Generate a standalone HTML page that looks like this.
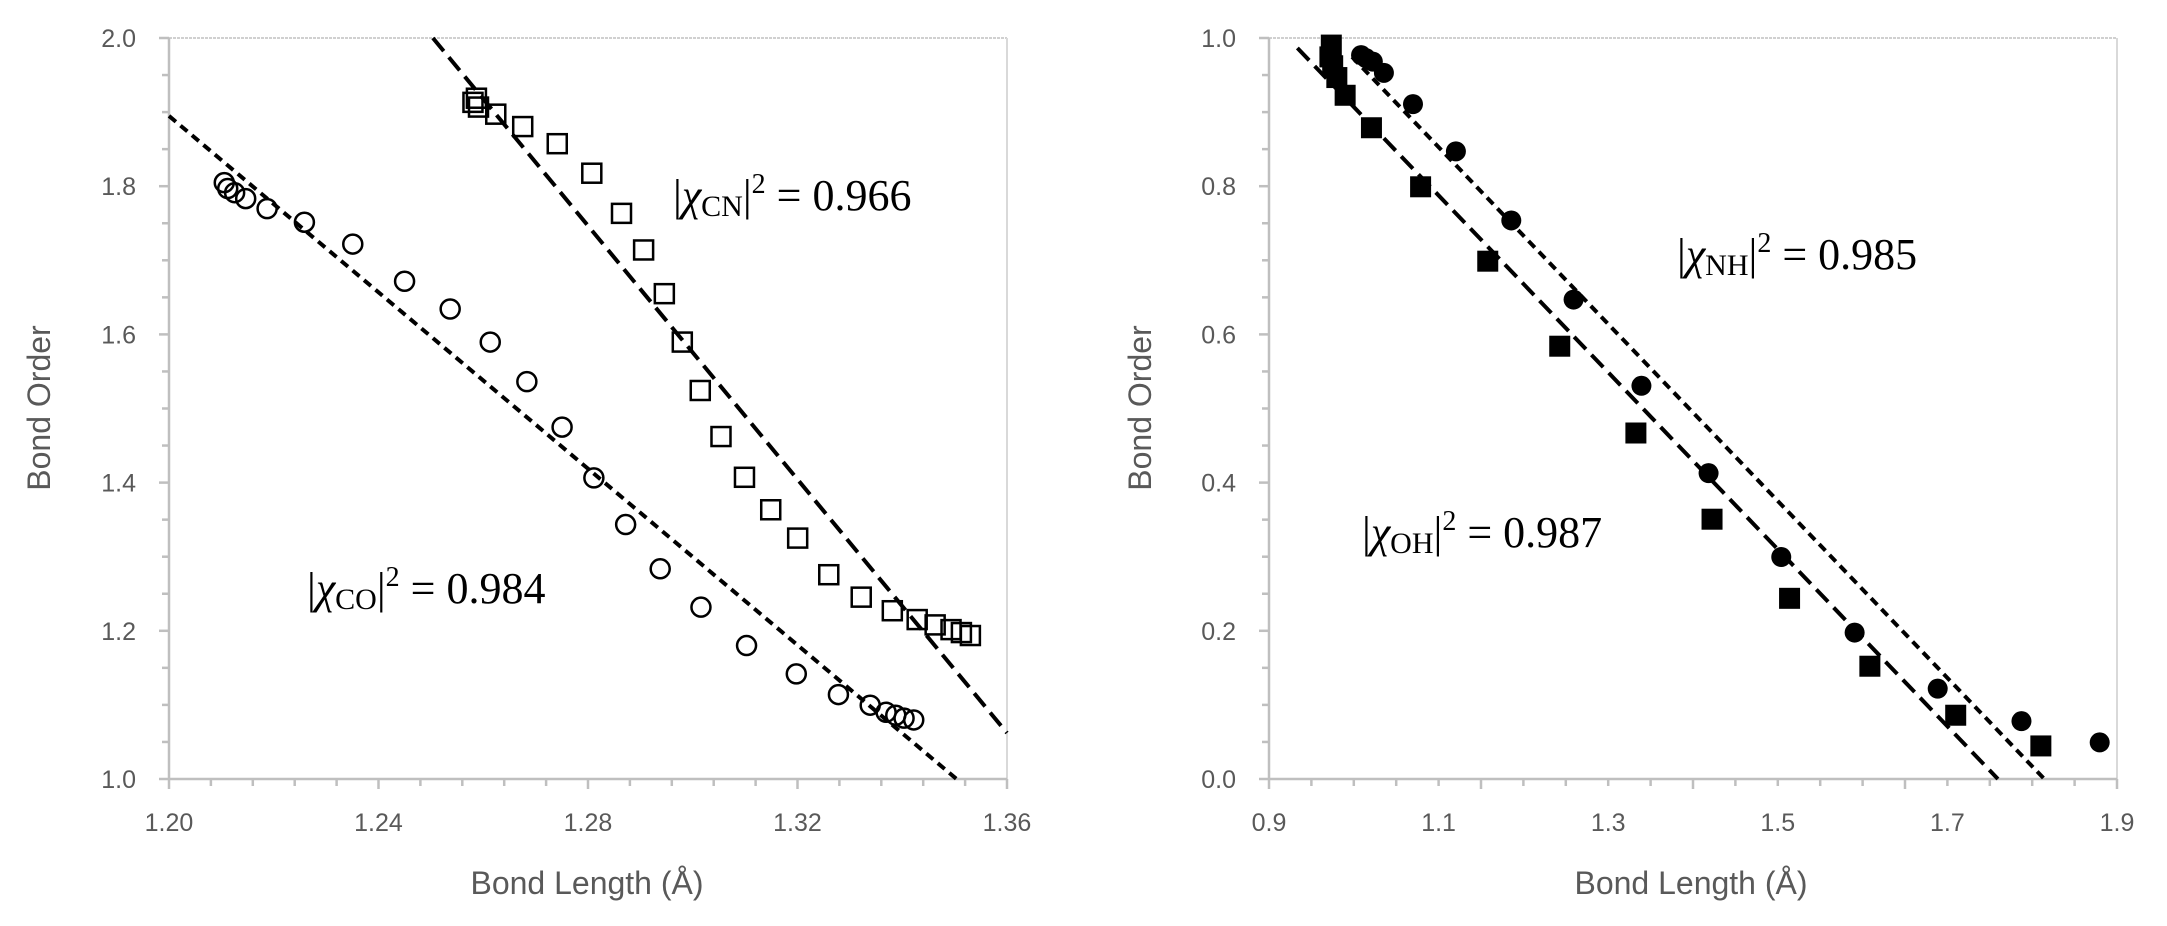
<!DOCTYPE html>
<html><head><meta charset="utf-8"><style>
html,body{margin:0;padding:0;background:#fff;}
svg{display:block;}
.tl{font-family:"Liberation Sans",sans-serif;font-size:25px;fill:#595959;}
.at{font-family:"Liberation Sans",sans-serif;font-size:32px;fill:#595959;}
.eq{font-family:"Liberation Serif",serif;font-size:44px;fill:#000;}
</style></head><body>
<svg id="s" width="2167" height="926" xmlns="http://www.w3.org/2000/svg">
<rect width="2167" height="926" fill="#fff"/>
<line x1="169" y1="38" x2="1007" y2="38" stroke="#d0d0d0" stroke-width="2" stroke-dasharray="3,1"/>
<line x1="1007" y1="38" x2="1007" y2="779" stroke="#d9d9d9" stroke-width="2"/>
<line x1="169" y1="38" x2="169" y2="779" stroke="#bfbfbf" stroke-width="2.5"/>
<line x1="169" y1="779" x2="1007" y2="779" stroke="#bfbfbf" stroke-width="2.5"/>
<line x1="1269" y1="38" x2="2117" y2="38" stroke="#d0d0d0" stroke-width="2" stroke-dasharray="3,1"/>
<line x1="2117" y1="38" x2="2117" y2="779" stroke="#d9d9d9" stroke-width="2"/>
<line x1="1269" y1="38" x2="1269" y2="779" stroke="#bfbfbf" stroke-width="2.5"/>
<line x1="1269" y1="779" x2="2117" y2="779" stroke="#bfbfbf" stroke-width="2.5"/>
<g id="ticks" stroke="#bfbfbf" stroke-width="2.5"></g>
<g id="labels"></g>
<text class="at" transform="translate(50,408) rotate(-90)" text-anchor="middle">Bond Order</text>
<text class="at" transform="translate(1151,408) rotate(-90)" text-anchor="middle">Bond Order</text>
<text class="at" x="587" y="894" text-anchor="middle">Bond Length (Å)</text>
<text class="at" x="1691" y="894" text-anchor="middle">Bond Length (Å)</text>
<g id="lines" stroke="#000" stroke-width="4" fill="none"></g>
<g id="pts"></g>
<text class="eq" x="673" y="210">|<tspan font-style="italic">χ</tspan><tspan font-size="30" dy="6">CN</tspan><tspan dy="-6">|</tspan><tspan font-size="28" dy="-17">2</tspan><tspan dy="17"> = 0.966</tspan></text>
<text class="eq" x="307" y="603">|<tspan font-style="italic">χ</tspan><tspan font-size="30" dy="6">CO</tspan><tspan dy="-6">|</tspan><tspan font-size="28" dy="-17">2</tspan><tspan dy="17"> = 0.984</tspan></text>
<text class="eq" x="1677" y="269">|<tspan font-style="italic">χ</tspan><tspan font-size="30" dy="6">NH</tspan><tspan dy="-6">|</tspan><tspan font-size="28" dy="-17">2</tspan><tspan dy="17"> = 0.985</tspan></text>
<text class="eq" x="1362" y="547">|<tspan font-style="italic">χ</tspan><tspan font-size="30" dy="6">OH</tspan><tspan dy="-6">|</tspan><tspan font-size="28" dy="-17">2</tspan><tspan dy="17"> = 0.987</tspan></text>
</svg>
<script>
var NS="http://www.w3.org/2000/svg";
function el(p,t,a,txt){var e=document.createElementNS(NS,t);for(var k in a)e.setAttribute(k,a[k]);if(txt!==undefined)e.textContent=txt;document.getElementById(p).appendChild(e);return e;}
[[169,1007],[1269,2117]].forEach(function(r){
  var x0=r[0],x1=r[1];
  for(var i=0;i<=20;i++){var y=38+i*741/20;var maj=i%4==0;el("ticks","line",{x1:x0-(maj?10:7),x2:x0,y1:y,y2:y});}
  for(var i=0;i<=20;i++){var x=x0+i*(x1-x0)/20;var maj=i%5==0;el("ticks","line",{x1:x,x2:x,y1:779,y2:779+(maj?10:7)});}
});
var ly=["2.0","1.8","1.6","1.4","1.2","1.0"], ry=["1.0","0.8","0.6","0.4","0.2","0.0"];
for(var i=0;i<6;i++){var y=38+i*741/5+9;
 el("labels","text",{"class":"tl",x:136,y:y,"text-anchor":"end"},ly[i]);
 el("labels","text",{"class":"tl",x:1236,y:y,"text-anchor":"end"},ry[i]);}
var lx=["1.20","1.24","1.28","1.32","1.36"];
for(var i=0;i<5;i++)el("labels","text",{"class":"tl",x:169+i*838/4,y:831,"text-anchor":"middle"},lx[i]);
var rx=["0.9","1.1","1.3","1.5","1.7","1.9"];
for(var i=0;i<6;i++)el("labels","text",{"class":"tl",x:1269+i*848/5,y:831,"text-anchor":"middle"},rx[i]);
function L(zx,zy){return [169+(zx-245)*838/1213,38+(zy-63)*741/1255];}
function R(zx,zy){return [1269+(zx-270)*848/1225,38+(zy-63)*741/1255];}
function line(f,a,b,d){var p=f(a[0],a[1]),q=f(b[0],b[1]);el("lines","line",{x1:p[0],y1:p[1],x2:q[0],y2:q[1],"stroke-dasharray":d});}
line(L,[245,195],[1385,1318],"9,6");
line(L,[627,63],[1458,1240],"17,8");
line(R,[390,95],[1390,1318],"9,6");
line(R,[311,80],[1323,1318],"17,8");
var co=[[325,308],[330,318],[340,325],[356,335],[387,352],[441,375],[511,412],[586,475],[652,522],[710,578],[763,645],[814,722],[860,808],[906,887],[956,962],[1015,1027],[1081,1092],[1153,1140],[1214,1175],[1260,1193],[1283,1205],[1297,1210],[1309,1215],[1323,1218]];
co.forEach(function(c){var p=L(c[0],c[1]);el("pts","circle",{cx:p[0],cy:p[1],r:9.5,fill:"none",stroke:"#000","stroke-width":2.5});});
var cn=[[685,172],[690,165],[693,180],[718,192],[757,213],[807,242],[857,292],[900,360],[932,422],[962,496],[988,578],[1014,660],[1044,738],[1078,807],[1116,862],[1155,910],[1200,972],[1247,1010],[1292,1033],[1328,1048],[1354,1057],[1377,1065],[1392,1070],[1405,1075]];
cn.forEach(function(c){var p=L(c[0],c[1]);el("pts","rect",{x:p[0]-9.5,y:p[1]-9.5,width:19,height:19,fill:"none",stroke:"#000","stroke-width":2.5});});
var nh=[[403,92],[410,97],[420,103],[436,122],[478,175],[540,255],[620,372],[710,506],[808,652],[905,800],[1010,942],[1116,1070],[1236,1165],[1357,1220],[1470,1256]];
nh.forEach(function(c){var p=R(c[0],c[1]);el("pts","circle",{cx:p[0],cy:p[1],r:10,fill:"#000"});});
var oh=[[360,75],[358,95],[362,110],[368,130],[380,160],[418,215],[489,315],[586,441],[690,585],[800,732],[910,878],[1022,1012],[1138,1127],[1262,1210],[1385,1262]];
oh.forEach(function(c){var p=R(c[0],c[1]);el("pts","rect",{x:p[0]-10.5,y:p[1]-10.5,width:21,height:21,fill:"#000"});});
</script>
</body></html>
